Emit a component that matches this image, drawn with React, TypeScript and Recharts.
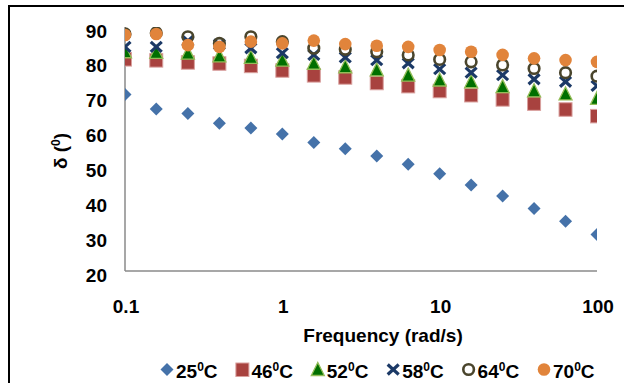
import React from "react";
import { ScatterChart, Scatter, XAxis, YAxis, Legend, Label } from "recharts";

const freq = [0.1, 0.158, 0.251, 0.398, 0.631, 1, 1.585, 2.512, 3.981, 6.31, 10, 15.85, 25.12, 39.81, 63.1, 100];
const t25 = [70.6, 66.5, 65.2, 62.4, 61.0, 59.3, 56.9, 55.1, 53.0, 50.6, 47.9, 44.7, 41.5, 37.9, 34.3, 30.5];
const t46 = [80.8, 80.5, 79.9, 79.6, 78.9, 77.6, 76.2, 75.6, 74.0, 73.1, 71.7, 70.5, 69.3, 68.1, 66.4, 64.5];
const t52 = [82.9, 82.7, 82.5, 81.7, 81.3, 80.5, 79.6, 78.6, 77.7, 76.2, 74.8, 74.3, 72.9, 71.7, 70.8, 69.5];
const t58 = [84.3, 84.3, 86.0, 85.0, 83.9, 82.5, 82.0, 81.3, 80.5, 79.6, 77.9, 76.9, 76.2, 75.0, 74.3, 73.1];
const t64 = [88.0, 88.3, 87.2, 85.3, 87.2, 85.8, 83.9, 83.6, 82.9, 82.0, 80.7, 80.0, 79.1, 78.1, 76.9, 75.9];
const t70 = [87.7, 88.0, 84.8, 84.3, 85.8, 85.3, 86.1, 85.1, 84.6, 84.3, 83.4, 82.9, 82.0, 81.0, 80.5, 80.0];

const seriesTemps = ["25", "46", "52", "58", "64", "70"];
const xTicks = [0.1, 1, 10, 100];
const yTicks = [20, 30, 40, 50, 60, 70, 80, 90];

const FONT = "Arial, 'Liberation Sans', sans-serif";

const toData = (vals: number[]) => freq.map((f, i) => ({ x: f, y: vals[i] }));

const Diamond = ({ cx, cy }: any) => (
  <path d={`M${cx},${cy - 6.5} L${cx + 6.5},${cy} L${cx},${cy + 6.5} L${cx - 6.5},${cy} Z`} fill="#4572A9" />
);
const Square = ({ cx, cy }: any) => (
  <rect x={cx - 6.5} y={cy - 6.5} width={13} height={13.5} fill="#A8423F" stroke="#D9A09E" strokeWidth={1} />
);
const Triangle = ({ cx, cy }: any) => (
  <path d={`M${cx},${cy - 7} L${cx + 6.5},${cy + 6} L${cx - 6.5},${cy + 6} Z`} fill="#006F00" stroke="#93BD58" strokeWidth={1.3} />
);
const Cross = ({ cx, cy }: any) => (
  <g stroke="#1B3966" strokeWidth={3.2} strokeLinecap="butt">
    <line x1={cx - 5.5} y1={cy - 5} x2={cx + 5.5} y2={cy + 5} />
    <line x1={cx - 5.5} y1={cy + 5} x2={cx + 5.5} y2={cy - 5} />
  </g>
);
const OpenCircle = ({ cx, cy }: any) => (
  <circle cx={cx} cy={cy} r={5.3} fill="none" stroke="#4A452C" strokeWidth={2.6} />
);
const Dot = ({ cx, cy }: any) => <circle cx={cx} cy={cy} r={6.3} fill="#E1843B" />;

const shapes = [Diamond, Square, Triangle, Cross, OpenCircle, Dot];
const seriesValues = [t25, t46, t52, t58, t64, t70];

const YTick = ({ x, y, payload }: any) => (
  <text x={x - 18} y={y + 10.5} textAnchor="end" fontFamily={FONT} fontWeight="bold" fontSize={19} fill="#000">
    {payload.value}
  </text>
);
const XTick = ({ x, y, payload }: any) => (
  <text x={x + 1} y={y + 42} textAnchor="middle" fontFamily={FONT} fontWeight="bold" fontSize={19} fill="#000">
    {payload.value}
  </text>
);

const LegendContent = () => (
  <svg width={624} height={28}>
    {seriesTemps.map((t, i) => {
      const S = shapes[i];
      const sx = 167 + i * 75.4;
      return (
        <g key={t}>
          <S cx={sx} cy={14.5} />
          <text x={sx + 9} y={23} fontFamily={FONT} fontWeight="bold" fontSize={19} fill="#000">
            {t}
            <tspan fontSize={12} dy={-7}>0</tspan>
            <tspan dy={7}>C</tspan>
          </text>
        </g>
      );
    })}
  </svg>
);

export default function App() {
  return (
    <div style={{ position: "absolute", left: 0, top: 0, width: 624, height: 383, background: "#fff" }}>
      <div
        style={{
          position: "absolute",
          left: 8,
          top: 5,
          width: 616,
          height: 378,
          borderLeft: "2px solid #000",
          borderTop: "2px solid #000",
          boxSizing: "border-box",
        }}
      />
      <div style={{ position: "absolute", left: 0, top: 0 }}>
        <ScatterChart width={624} height={383} margin={{ top: 27, right: 27, left: 65, bottom: 54 }}>
          <XAxis
            type="number"
            dataKey="x"
            scale="log"
            domain={[0.1, 100]}
            ticks={xTicks}
            allowDataOverflow
            height={30}
            tickLine={false}
            tickSize={0}
            tickMargin={0}
            tick={<XTick />}
            stroke="#8A8A8A"
            strokeWidth={1.5}
          >
            <Label
              content={() => (
                <text x={383} y={342} textAnchor="middle" fontFamily={FONT} fontWeight="bold" fontSize={19} fill="#000">
                  Frequency (rad/s)
                </text>
              )}
            />
          </XAxis>
          <YAxis
            type="number"
            dataKey="y"
            domain={[20, 90]}
            ticks={yTicks}
            allowDataOverflow
            width={60}
            tickLine={false}
            tickSize={0}
            tickMargin={0}
            tick={<YTick />}
            stroke="#8A8A8A"
            strokeWidth={1.5}
          >
            <Label
              content={() => (
                <text
                  x={67}
                  y={151}
                  transform="rotate(-90 67 151)"
                  textAnchor="middle"
                  fontFamily={FONT}
                  fontWeight="bold"
                  fontSize={19}
                  fill="#000"
                >
                  δ (<tspan fontSize={12} dy={-7}>0</tspan>
                  <tspan dy={7}>)</tspan>
                </text>
              )}
            />
          </YAxis>
          <Legend
            content={<LegendContent />}
            wrapperStyle={{ position: "absolute", left: 0, top: 355, width: 624, height: 28 }}
          />
          {seriesValues.map((vals, i) => (
            <Scatter
              key={seriesTemps[i]}
              name={`${seriesTemps[i]}°C`}
              data={toData(vals)}
              shape={shapes[i]}
              isAnimationActive={false}
            />
          ))}
        </ScatterChart>
      </div>
    </div>
  );
}
